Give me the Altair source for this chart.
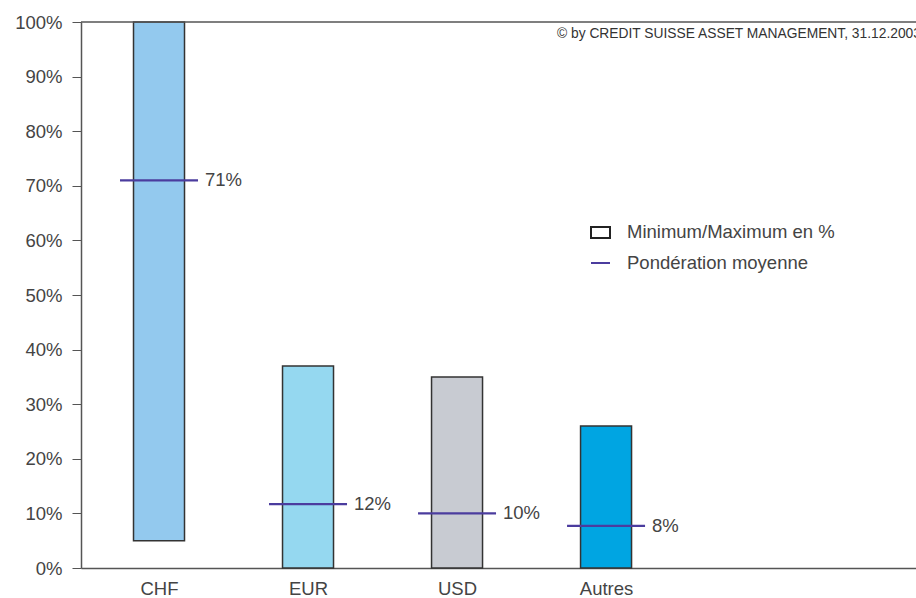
import altair as alt
import pandas as pd

categories = ["CHF", "EUR", "USD", "Autres"]
positions = [1, 2, 3, 4]
min_pct = [5, 0, 0, 0]
max_pct = [100, 37, 35, 26]
mean_pct = [71, 11.7, 10, 7.7]
bar_colors = ["#93C9EE", "#95D8F0", "#C8CBD2", "#00A5E2"]
y_ticks = [0, 10, 20, 30, 40, 50, 60, 70, 80, 90, 100]
legend_labels = ["Minimum/Maximum en %", "Pondération moyenne"]
copyright_text = "© by CREDIT SUISSE ASSET MANAGEMENT, 31.12.2003"

df = pd.DataFrame({
    "cat": categories,
    "pos": positions,
    "lo": min_pct,
    "hi": max_pct,
    "mean": [m / 100 for m in mean_pct],
    "meanv": mean_pct,
})

FONT = "Liberation Sans"
TXT = "#444444"
FS = 18.5
W, H = 835, 546

xscale = alt.Scale(domain=[0.4765, 6.08], nice=False, zero=False, padding=0)
yscale = alt.Scale(domain=[0, 100], nice=False)

xaxis = alt.Axis(values=positions, labelExpr="['CHF','EUR','USD','Autres'][datum.value-1]",
                 title=None, grid=False, ticks=False, labelFontSize=FS, labelFont=FONT,
                 labelColor=TXT, labelPadding=11, domainColor="#555555", domainWidth=1.5)
yaxis = alt.Axis(values=y_ticks, labelExpr="datum.value + '%'", title=None, grid=False,
                 tickSize=9, tickColor="#555555", labelFontSize=FS, labelFont=FONT,
                 labelColor=TXT, labelPadding=10, domainColor="#555555", domainWidth=1.5)

base = alt.Chart(df)

bars = base.mark_bar(size=51, stroke="#333333", strokeWidth=1.5).encode(
    x=alt.X("pos:Q", scale=xscale, axis=xaxis),
    y=alt.Y("lo:Q", scale=yscale, axis=yaxis),
    y2="hi:Q",
    color=alt.Color("cat:N", scale=alt.Scale(domain=categories, range=bar_colors), legend=None),
)

means = base.mark_tick(orient="horizontal", size=78, thickness=2.2, color="#4B3C9E", opacity=1).encode(
    x=alt.X("pos:Q", scale=xscale),
    y=alt.Y("meanv:Q", scale=yscale),
)

labels = base.mark_text(align="left", baseline="middle", dx=46, fontSize=FS, font=FONT, color=TXT).encode(
    x=alt.X("pos:Q", scale=xscale),
    y=alt.Y("meanv:Q", scale=yscale),
    text=alt.Text("mean:Q", format=".0%"),
)

top_line = alt.Chart(pd.DataFrame({"v": [100]})).mark_rule(color="#555555", strokeWidth=1.5).encode(
    y=alt.Y("v:Q", scale=yscale), x=alt.value(0), x2=alt.value(W)
)

copy = alt.Chart(pd.DataFrame({"t": [copyright_text]})).mark_text(
    align="left", baseline="middle", fontSize=13.8, font=FONT, color="#333333"
).encode(text="t:N", x=alt.value(476), y=alt.value(12))

leg_box = alt.Chart(pd.DataFrame({"k": [0]})).mark_rect(fill="white", stroke="#222222", strokeWidth=2).encode(
    x=alt.value(510), x2=alt.value(529), y=alt.value(205), y2=alt.value(216)
)
leg_line = alt.Chart(pd.DataFrame({"k": [0]})).mark_rule(color="#4B3C9E", strokeWidth=2).encode(
    x=alt.value(510), x2=alt.value(529), y=alt.value(241)
)
leg_text = alt.Chart(pd.DataFrame({"t": legend_labels, "yy": [210, 241]})).mark_text(
    align="left", baseline="middle", fontSize=FS, font=FONT, color=TXT
).encode(text="t:N", x=alt.value(546), y=alt.Y("yy:Q", scale=alt.Scale(domain=[0, H], range=[0, H]), axis=None))

chart = alt.layer(bars, means, labels, top_line, copy, leg_box, leg_line, leg_text).resolve_scale(
    y="independent"
).properties(
    width=W, height=H, autosize="none",
    padding={"left": 81, "top": 22, "right": 0, "bottom": 30},
    background="white",
).configure_view(strokeWidth=0)

chart.save("out.html", embed_options={"renderer": "svg", "actions": False})
